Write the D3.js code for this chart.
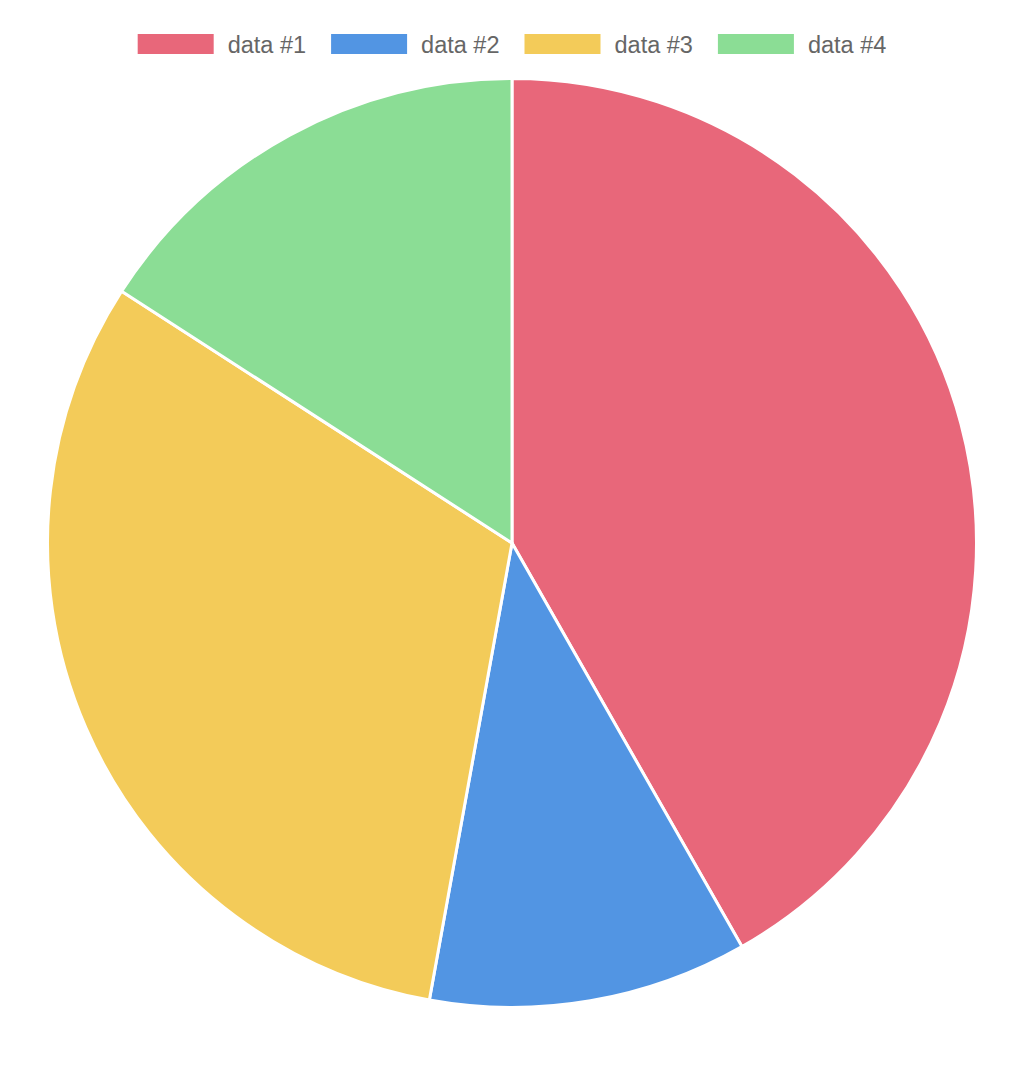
<!DOCTYPE html>
<html>
<head>
<meta charset="utf-8">
<script src="https://cdn.jsdelivr.net/npm/d3@7"></script>
<style>
    html, body { margin: 0; padding: 0; background: #fff; }
    svg { display: block; }
    .legend text { font-family: "Liberation Sans", Arial, Helvetica, sans-serif; font-size: 23.5px; fill: #666; }
</style>
</head>
<body>
<svg id="chart" width="1034" height="1078"></svg>
<script>
// Chart data
const labels = ['data #1', 'data #2', 'data #3', 'data #4'];
const values = [41.8, 11.1, 31.3, 15.9];
const colors = ['#e8677a', '#5295e3', '#f3cb59', '#8bdd95'];

const width = 1034;
const height = 1078;
const cx = 512;
const cy = 543;
const radius = 464.5;

const svg = d3.select('#chart');

// Pie slices, starting at 12 o'clock going clockwise
const pie = d3.pie().sort(null).value(d => d.value);
const arc = d3.arc().innerRadius(0).outerRadius(radius);

const data = labels.map((l, i) => ({ label: l, value: values[i], color: colors[i] }));

svg.append('g')
    .attr('transform', `translate(${cx},${cy})`)
    .selectAll('path')
    .data(pie(data))
    .join('path')
    .attr('d', arc)
    .attr('fill', d => d.data.color)
    .attr('stroke', '#fff')
    .attr('stroke-width', 3)
    .attr('stroke-linejoin', 'round');

// Legend, centered on top
const boxW = 76, boxH = 20, gap = 14, itemPad = 25;
const legend = svg.append('g').attr('class', 'legend');

const items = legend.selectAll('g')
    .data(data)
    .join('g');

items.append('rect')
    .attr('width', boxW)
    .attr('height', boxH)
    .attr('y', 34)
    .attr('fill', d => d.color);

items.append('text')
    .attr('x', boxW + gap)
    .attr('y', 52.5)
    .text(d => d.label);

// Measure the labels and lay items out side by side
const widths = [];
items.select('text').each(function() { widths.push(this.getComputedTextLength()); });
const itemW = widths.map(w => boxW + gap + w);
const total = d3.sum(itemW) + itemPad * (itemW.length - 1);
let x = cx - total / 2;
items.attr('transform', (d, i) => {
    const t = `translate(${x},0)`;
    x += itemW[i] + itemPad;
    return t;
});
</script>
</body>
</html>
